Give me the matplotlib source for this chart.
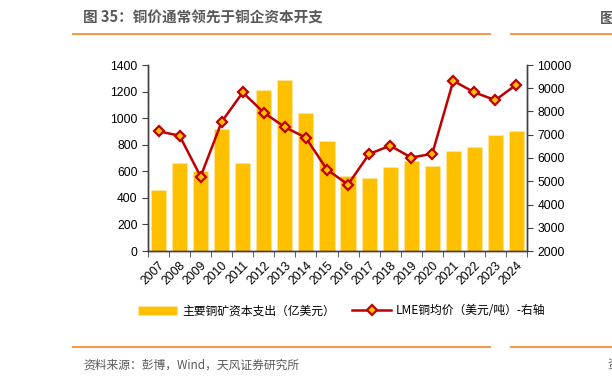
import numpy as np
import matplotlib
matplotlib.use("Agg")
import matplotlib.pyplot as plt
from matplotlib.lines import Line2D

plt.rcParams['font.family'] = ['Noto Sans CJK SC', 'DejaVu Sans']

# data
years = ["2007", "2008", "2009", "2010", "2011", "2012", "2013", "2014", "2015",
         "2016", "2017", "2018", "2019", "2020", "2021", "2022", "2023", "2024"]
capex = [460, 660, 600, 920, 665, 1215, 1285, 1035, 830,
         565, 550, 630, 675, 640, 750, 785, 870, 905]
lme_price = [7150, 6960, 5200, 7560, 8820, 7950, 7330, 6870, 5500,
             4860, 6170, 6530, 6020, 6180, 9320, 8820, 8490, 9160]

bar_color = "#FFC000"
line_color = "#C00000"
axis_color = "#404040"
orange = "#F39A4B"
num_font = ['Liberation Sans', 'DejaVu Sans']

fig = plt.figure(figsize=(6.12, 3.83), dpi=100)

# title and decorative lines
fig.text(83 / 612, 1 - 18 / 383, "图 35：铜价通常领先于铜企资本开支", fontsize=10.5,
         color="#595959", fontweight="bold", va="center", ha="left")
fig.text(600 / 612, 1 - 18 / 383, "图", fontsize=10.5, color="#595959",
         fontweight="bold", va="center", ha="left")
for y in (1 - 33.5 / 383, 1 - 347 / 383):
    fig.add_artist(Line2D([73 / 612, 490 / 612], [y, y], color=orange, lw=1.5))
    fig.add_artist(Line2D([511 / 612, 1.0], [y, y], color=orange, lw=1.5))
fig.text(83 / 612, 1 - 365 / 383, "资料来源：彭博，Wind，天风证券研究所", fontsize=8.5,
         color="#595959", va="center", ha="left")
fig.text(607 / 612, 1 - 365 / 383, "资", fontsize=8.5, color="#595959",
         va="center", ha="left")

ax = fig.add_axes([148 / 612, 1 - 251 / 383, (527 - 148) / 612, (251 - 65) / 383])
x = np.arange(len(years))
bars = ax.bar(x, capex, width=0.72, color=bar_color, edgecolor="#FFE9A8",
              linewidth=0.4, label="主要铜矿资本支出（亿美元）")
ax.set_ylim(0, 1400)
ax.set_yticks(range(0, 1401, 200))
ax.set_xlim(-0.5, len(years) - 0.5)
ax.set_xticks(x)
ax.set_xticklabels(years, rotation=45, ha="right", rotation_mode="anchor")
ax.set_xticks(np.arange(-0.5, len(years), 1), minor=True)
ax.tick_params(axis="x", which="major", length=0, labelsize=8.7, pad=6)
ax.tick_params(axis="x", which="minor", length=4, direction="out", color=axis_color)
ax.tick_params(axis="y", length=4, direction="out", labelsize=8.7, color=axis_color)

ax2 = ax.twinx()
ln, = ax2.plot(x, lme_price, color=line_color, lw=1.8, marker="D", markersize=5.5,
               markerfacecolor=bar_color, markeredgecolor=line_color,
               markeredgewidth=1.6, label="LME铜均价（美元/吨）-右轴")
ax2.set_ylim(2000, 10000)
ax2.set_yticks(range(2000, 10001, 1000))
ax2.tick_params(axis="y", length=4, direction="out", labelsize=8.7, color=axis_color)

for a in (ax, ax2):
    a.spines["top"].set_visible(False)
    for s in ("left", "right", "bottom"):
        a.spines[s].set_color(axis_color)
        a.spines[s].set_linewidth(1.0)
    for lab in a.get_xticklabels() + a.get_yticklabels():
        lab.set_family(num_font)

fig.legend(handles=[bars, ln], loc="center", bbox_to_anchor=(342 / 612, 1 - 311 / 383),
           ncol=2, frameon=False, fontsize=8.5, handlelength=3.3, columnspacing=1.5,
           handletextpad=0.4)

fig.savefig("out.png", dpi=100)
